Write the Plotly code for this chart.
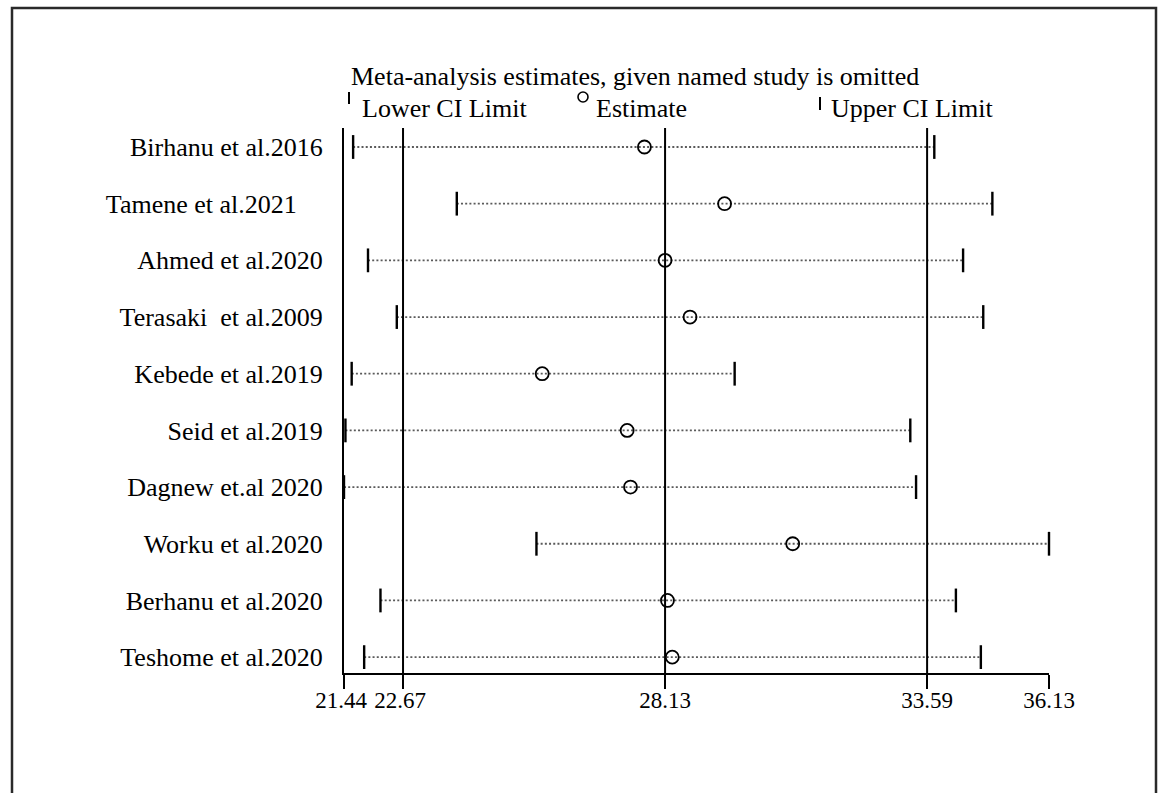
import plotly.graph_objects as go

# Leave-one-out sensitivity analysis: pooled estimate with 95% CI when each study is omitted
studies = [
    "Birhanu et al.2016",
    "Tamene et al.2021\u00a0\u00a0\u00a0\u00a0",
    "Ahmed et al.2020",
    "Terasaki\u00a0 et al.2009",
    "Kebede et al.2019",
    "Seid et al.2019",
    "Dagnew et.al 2020",
    "Worku et al.2020",
    "Berhanu et al.2020",
    "Teshome et al.2020",
]
estimate = [27.70, 29.37, 28.13, 28.65, 25.57, 27.34, 27.41, 30.79, 28.18, 28.28]
lower_ci = [21.63, 23.79, 21.94, 22.54, 21.60, 21.47, 21.44, 25.45, 22.20, 21.86]
upper_ci = [33.74, 34.95, 34.34, 34.76, 29.58, 33.24, 33.36, 36.13, 34.19, 34.71]

axis_ticks = [21.44, 22.67, 28.13, 33.59, 36.13]
axis_tick_text = ["21.44\u00a0", "22.67\u00a0", "28.13", "33.59", "36.13"]
reference_lines = [22.67, 28.13, 33.59]  # lower CI, overall estimate, upper CI of the full model

rows = list(range(1, len(studies) + 1))

W, H = 1162, 793
L, R, T, B = 344, 1049, 128, 673
FONT = "Liberation Serif, Times New Roman, serif"
TEXT_SIZE = 26


def px_x(px):
    return (px - L) / (R - L)


def px_y(py):
    return (B - py) / (B - T)


fig = go.Figure()

# dotted CI segments
seg_x, seg_y = [], []
for r, lo, up in zip(rows, lower_ci, upper_ci):
    seg_x += [lo, up, None]
    seg_y += [r, r, None]
fig.add_trace(go.Scatter(
    x=seg_x, y=seg_y, mode="lines",
    line=dict(color="#5a5a5a", width=1.8, dash="2px,2.2px"),
    hoverinfo="skip", showlegend=False, cliponaxis=False,
))

# CI end ticks
fig.add_trace(go.Scatter(
    x=lower_ci + upper_ci, y=rows + rows, mode="markers",
    marker=dict(symbol="line-ns", size=17, line=dict(width=2.4, color="black")),
    showlegend=False, cliponaxis=False,
))

# point estimates
fig.add_trace(go.Scatter(
    x=estimate, y=rows, mode="markers",
    marker=dict(symbol="circle-open", size=13, color="black", line=dict(width=1.8, color="black")),
    showlegend=False, cliponaxis=False,
))

shapes = []
for v in reference_lines:
    shapes.append(dict(type="line", xref="x", yref="paper", x0=v, x1=v, y0=0, y1=1,
                       line=dict(color="black", width=2)))

# legend marks
shapes.append(dict(type="line", xref="paper", yref="paper", x0=px_x(349), x1=px_x(349),
                   y0=px_y(104), y1=px_y(92), line=dict(color="black", width=2)))
shapes.append(dict(type="circle", xref="paper", yref="paper", x0=px_x(578), x1=px_x(588),
                   y0=px_y(102), y1=px_y(92), line=dict(color="black", width=1.6)))
shapes.append(dict(type="line", xref="paper", yref="paper", x0=px_x(820), x1=px_x(820),
                   y0=px_y(110), y1=px_y(97), line=dict(color="black", width=2)))

# outer frame
shapes.append(dict(type="rect", xref="paper", yref="paper", x0=px_x(12), x1=px_x(1156),
                   y0=px_y(820), y1=px_y(8), line=dict(color="#2a2a2a", width=2.5)))

text_font = dict(family=FONT, size=TEXT_SIZE, color="black")
annotations = [
    dict(text="Meta-analysis estimates, given named study is omitted", xref="paper", yref="paper",
         x=px_x(349), y=px_y(77), xanchor="left", yanchor="middle", showarrow=False, font=text_font),
    dict(text="Lower CI Limit", xref="paper", yref="paper",
         x=px_x(360), y=px_y(108), xanchor="left", yanchor="middle", showarrow=False, font=text_font),
    dict(text="Estimate", xref="paper", yref="paper",
         x=px_x(594), y=px_y(108), xanchor="left", yanchor="middle", showarrow=False, font=text_font),
    dict(text="Upper CI Limit", xref="paper", yref="paper",
         x=px_x(829), y=px_y(108), xanchor="left", yanchor="middle", showarrow=False, font=text_font),
]

fig.update_layout(
    width=W, height=H,
    margin=dict(l=L, r=W - R, t=T, b=H - B, pad=0),
    paper_bgcolor="white", plot_bgcolor="white",
    shapes=shapes, annotations=annotations,
    xaxis=dict(
        range=[21.44, 36.13], tickvals=axis_ticks, ticktext=axis_tick_text, tickangle=0,
        showline=True, linecolor="black", linewidth=2, mirror=False,
        ticks="outside", ticklen=14, tickwidth=2, tickcolor="black",
        showgrid=False, zeroline=False, ticklabelstandoff=-9,
        tickfont=dict(family=FONT, size=23, color="black"),
    ),
    yaxis=dict(
        range=[10.28, 0.665], tickvals=rows, ticktext=studies,
        showline=True, linecolor="black", linewidth=2,
        ticks="", showgrid=False, zeroline=False, ticklabelstandoff=14,
        tickfont=text_font,
    ),
    showlegend=False,
)

fig.write_html("out.html")
